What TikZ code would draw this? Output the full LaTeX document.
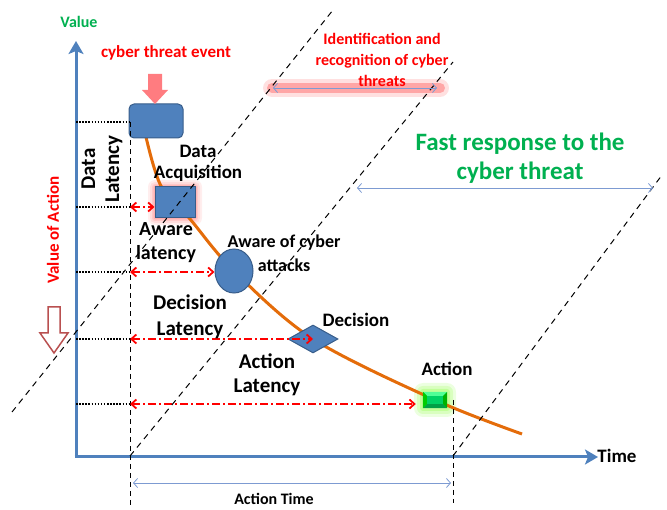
\documentclass[tikz,border=0pt]{standalone}
\usepackage{fontspec}
\setmainfont{Carlito}
\usetikzlibrary{arrows.meta,shapes.geometric,calc}
\definecolor{axisblue}{RGB}{79,129,189}
\definecolor{boxedge}{RGB}{56,93,138}
\definecolor{curveorange}{RGB}{228,108,10}
\definecolor{txtgreen}{RGB}{0,176,80}
\definecolor{thinblue}{RGB}{125,155,210}
\definecolor{pinkarrow}{RGB}{255,124,128}
\definecolor{hollowred}{RGB}{185,80,80}
\definecolor{gmid}{RGB}{0,210,100}
\definecolor{glight}{RGB}{80,255,150}
\definecolor{gdark}{RGB}{0,160,70}
\newcommand\fsz[2]{\fontsize{#1}{#2}\selectfont\bfseries}
\begin{document}
\begin{tikzpicture}[x=1pt,y=-1pt,
  lbl/.style={inner sep=0pt, align=center},
  bluebox/.style={fill=axisblue, draw=boxedge, line width=1pt, inner sep=0pt},
  axisline/.style={draw=axisblue, line width=3pt, -{Stealth[length=13pt,width=15pt,inset=3pt]}},
  thinarrow/.style={draw=thinblue, line width=0.8pt, {Straight Barb[length=4pt,width=9pt]}-{Straight Barb[length=4pt,width=9pt]}},
  redarrow/.style={draw=red, line width=1.6pt, dash pattern=on 8pt off 3pt on 2pt off 3pt, {Straight Barb[length=5pt,width=9pt,line width=1.8pt]}-{Straight Barb[length=5pt,width=9pt,line width=1.8pt]}},
  dotline/.style={draw=black, line width=1.5pt, dash pattern=on 1.5pt off 1.6pt},
  vdash/.style={draw=black, line width=1pt, dash pattern=on 5pt off 4pt},
  ddash/.style={draw=black, line width=1pt, dash pattern=on 6pt off 5pt}]
\useasboundingbox (0,0) rectangle (667,510);

% glows
\foreach \d/\o in {7/0.12,5/0.15,3/0.2,1.5/0.3}
  \fill[red!55, opacity=\o, rounded corners=\d pt] (155-\d,187-\d) rectangle (195+\d,218+\d);
\foreach \d/\o in {9/0.12,6/0.15,3/0.2}
  \fill[green!60!yellow, opacity=\o, rounded corners=\d pt] (423-\d,392-\d) rectangle (447+\d,408+\d);
\draw[line width=18pt, red!40, opacity=0.3, line cap=round] (272,88) -- (440,88);
\draw[line width=10pt, red!50, opacity=0.6, line cap=round] (272,88) -- (440,88);

% curve
\draw[curveorange, line width=3pt] plot[smooth, tension=0.55] coordinates {(146,137) (161,186) (190,219) (234,271) (313,339) (435,400) (522,434)};

% axes
\coordinate (origin) at (76,457);
\coordinate (ytip) at (76,41);
\coordinate (xtip) at (598,457);
\draw[axisline] (origin) -- (ytip);
\draw[axisline] ($(origin)+(-1.5,0)$) -- (xtip);

% shapes
\node[bluebox, rounded corners=5pt, minimum width=54pt, minimum height=34pt] (evt) at (156,121) {};
\node[bluebox, minimum width=40pt, minimum height=31pt] (acq) at (175,202.5) {};
\node[bluebox, ellipse, minimum width=38pt, minimum height=44pt] (aware) at (234,271) {};
\node[bluebox, diamond, minimum width=50pt, minimum height=28pt] (dec) at (313,339) {};
\node[inner sep=0pt, minimum width=24pt, minimum height=16pt] (act) at (435,400) {};
\fill[gmid] (act.north west) rectangle (act.south east);
\fill[glight] (act.north west) -- (act.north east) -- ($(act.north east)+(-4,4)$) -- ($(act.north west)+(4,4)$) -- cycle;
\fill[gdark] (act.south west) -- (act.south east) -- ($(act.south east)+(-4,-4)$) -- ($(act.south west)+(4,-4)$) -- cycle;
\fill[green!70!black] (act.north east) -- (act.south east) -- ($(act.south east)+(-4,-4)$) -- ($(act.north east)+(-4,4)$) -- cycle;
\fill[green!80!black] (act.north west) -- (act.south west) -- ($(act.south west)+(4,-4)$) -- ($(act.north west)+(4,4)$) -- cycle;

% cyber threat event arrow
\fill[pinkarrow] (148,74) -- (162,74) -- (162,90) -- (168,90) -- (155,104) -- (142,90) -- (148,90) -- cycle;

% hollow arrow
\draw[hollowred, line width=1.5pt, fill=white] (48,307) -- (60,307) -- (60,333) -- (68,333) -- (54,353) -- (40,333) -- (48,333) -- cycle;

% dotted guides and vertical dashed line
\coordinate (v1) at (130,122);
\coordinate (v2) at (130,207);
\coordinate (v3) at (130,272);
\coordinate (v4) at (130,339);
\coordinate (v5) at (130,404);
\coordinate (vbot) at (130,505);
\foreach \v in {v1,v2,v3,v4,v5} \draw[dotline] (origin |- \v) -- (\v);
\draw[vdash] (v1) -- (vbot);
\coordinate (atop) at (453,400);
\coordinate (abot) at (453,503);
\draw[vdash] (atop) -- (abot);

% red latency arrows
\draw[redarrow] (v2) -- (v2 -| acq.west);
\draw[redarrow] (v3) -- (v3 -| aware.west);
\draw[redarrow] (v4) -- ($(v4 -| dec.center)$);
\draw[redarrow] (v5) -- ($(v5 -| act.west)+(-7,0)$);

% diagonal dashed lines
\coordinate (d1a) at (12,412); \coordinate (d1b) at (333,10);
\coordinate (d2a) at (130,456); \coordinate (d2b) at (453,62);
\coordinate (d3a) at (453,456); \coordinate (d3b) at (662,175);
\draw[ddash] (d1a) -- (d1b);
\draw[ddash] (d2a) -- (d2b);
\draw[ddash] (d3a) -- (d3b);

% thin blue arrows
\coordinate (i1) at (273,88); \coordinate (i2) at (437,88);
\coordinate (f1) at (357,188); \coordinate (f2) at (653,188);
\coordinate (t1) at (133,483); \coordinate (t2) at (451,483);
\draw[thinarrow] (i1) -- (i2);
\draw[thinarrow] (f1) -- (f2);
\draw[thinarrow] (t1) -- (t2);

% texts
\node[lbl, text=txtgreen, font=\fsz{16}{19}] (tvalue) at (79,22) {Value};
\node[lbl, text=red, font=\fsz{17}{19}] (tevent) at (166,53) {cyber threat event};
\node[lbl, text=red, font=\fsz{16}{21}] (tident) at (382,60) {Identification and\\recognition of cyber\\threats};
\node[lbl, text=txtgreen, font=\fsz{25}{29}] (tfast) at (520,158) {Fast response to the\\cyber threat};
\node[lbl, font=\fsz{19}{21}] (tacq) at (198,163) {Data\\Acquisition};
\node[lbl, font=\fsz{20}{24}] (tawl) at (166,243) {Aware\\latency};
\node[lbl, font=\fsz{18}{24}] (tawc) at (284,253) {Aware of cyber\\attacks};
\node[lbl, font=\fsz{21}{26}] (tdecl) at (190,317) {Decision\\Latency};
\node[lbl, font=\fsz{19}{21}] (tdec) at (356,320) {Decision};
\node[lbl, font=\fsz{21}{24}] (tactl) at (267,375) {Action\\Latency};
\node[lbl, font=\fsz{19}{21}] (tact) at (447,369) {Action};
\node[lbl, font=\fsz{19}{21}] (ttime) at (617,456) {Time};
\node[lbl, font=\fsz{16}{19}] (tatime) at (274,499) {Action Time};
\node[lbl, text=red, font=\fsz{17}{20}, rotate=90] (tvoa) at (53,230) {Value of Action};
\node[lbl, font=\fsz{21}{24}, rotate=90] (tdatl) at (102,169) {Data\\Latency};
\end{tikzpicture}
\end{document}
